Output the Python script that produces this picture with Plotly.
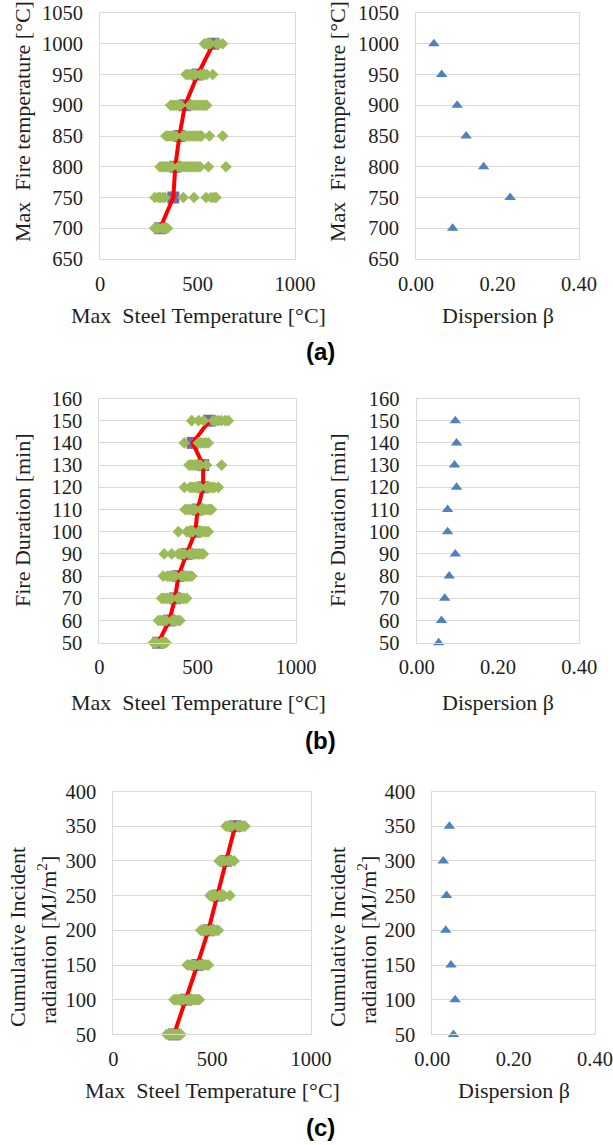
import plotly.graph_objects as go

W, H = 613, 1145

# ---------------- data ----------------
a_levels = [700, 750, 800, 850, 900, 950, 1000]
a_mean = [308, 376, 386, 407, 436, 501, 581]
a_beta = [0.090, 0.231, 0.166, 0.123, 0.101, 0.063, 0.044]
a_samples = [
    [280, 290, 298, 318, 328, 338, 346],
    [282, 300, 308, 321, 333, 427, 482, 544, 570, 585, 595],
    [308, 318, 328, 338, 348, 358, 368, 402, 412, 422, 432, 442, 452, 462, 472, 482, 492, 502, 513, 556, 646],
    [338, 348, 358, 368, 378, 388, 425, 435, 445, 455, 465, 475, 485, 495, 505, 515, 521, 561, 629],
    [362, 372, 382, 392, 402, 412, 460, 470, 480, 490, 500, 510, 520, 530, 540, 547],
    [441, 450, 460, 470, 480, 490, 515, 525, 535, 547, 578],
    [535, 545, 555, 565, 598, 610, 629],
]

b_levels = [50, 60, 70, 80, 90, 100, 110, 120, 130, 140, 150]
b_mean = [300, 356, 385, 402, 444, 488, 500, 528, 528, 475, 559]
b_beta = [0.054, 0.061, 0.069, 0.080, 0.095, 0.076, 0.076, 0.098, 0.093, 0.098, 0.095]
b_samples = [
    [275, 283, 291, 315, 325, 333, 339],
    [300, 310, 320, 330, 340, 370, 378, 386, 394, 402, 410],
    [317, 327, 337, 347, 357, 367, 400, 410, 420, 430, 444],
    [325, 346, 356, 366, 376, 386, 418, 428, 438, 448, 458, 470],
    [330, 368, 402, 412, 422, 432, 460, 470, 480, 490, 500, 510, 520, 529],
    [402, 445, 455, 465, 475, 505, 515, 525, 535, 545, 554],
    [436, 446, 456, 466, 476, 486, 516, 526, 536, 546, 556, 564, 571],
    [432, 461, 471, 481, 491, 501, 511, 545, 555, 565, 575, 585, 605],
    [456, 466, 476, 486, 496, 506, 514, 545, 622],
    [432, 503, 515, 528, 541, 554],
    [470, 505, 530, 580, 592, 605, 620, 640, 656],
]

c_levels = [50, 100, 150, 200, 250, 300, 350]
c_mean = [307, 368, 425, 481, 526, 570, 616]
c_beta = [0.052, 0.056, 0.046, 0.033, 0.035, 0.027, 0.042]
c_samples = [
    [270, 280, 290, 300, 310, 320, 330, 342],
    [307, 317, 327, 337, 347, 357, 377, 387, 397, 407, 417, 427, 435],
    [374, 384, 394, 404, 414, 434, 444, 454, 464, 474, 481],
    [442, 452, 462, 472, 490, 500, 510, 520, 531],
    [489, 498, 507, 516, 536, 545, 554, 560, 590],
    [535, 544, 553, 562, 580, 589, 598, 611],
    [570, 580, 590, 600, 630, 640, 650, 660, 666],
]

steel_ticks = [0, 500, 1000]
beta_ticks = [0.0, 0.2, 0.4]

# ---------------- style ----------------
FONT = "Liberation Serif, Times New Roman, serif"
FS = 20.5
FT = 22
TXT = "#1e1e1e"
GRID = "#d9d9d9"
GREEN = "#9bbb59"
PURPLE = "#8064a2"
RED = "#ff0000"
BLUE = "#4f81bd"


def px_x(p):
    return p / W


def px_y(p):
    return 1 - p / H


panels = [
    dict(lx=(100, 295), rx=(416, 579), y=(13, 259), levels=a_levels, mean=a_mean, beta=a_beta,
         samples=a_samples, yr=[650, 1050], dy=50),
    dict(lx=(99.3, 296), rx=(416.7, 579.3), y=(398.5, 642.7), levels=b_levels, mean=b_mean, beta=b_beta,
         samples=b_samples, yr=[50, 160], dy=10),
    dict(lx=(113.3, 311), rx=(432.3, 595), y=(791.5, 1034.4), levels=c_levels, mean=c_mean, beta=c_beta,
         samples=c_samples, yr=[50, 400], dy=50),
]

fig = go.Figure()
layout = {}


def axis_common():
    return dict(showline=True, linecolor=GRID, mirror=True, linewidth=1, zeroline=False,
                automargin=False, tickcolor="rgba(0,0,0,0)", ticks="outside",
                tickfont=dict(family=FONT, size=FS, color=TXT), fixedrange=True)


k = 0
for p in panels:
    # left subplot: steel temperature
    k += 1
    xa, ya = ("x" if k == 1 else f"x{k}"), ("y" if k == 1 else f"y{k}")
    xs, ys = [], []
    for lv, smp in zip(p["levels"], p["samples"]):
        xs += smp
        ys += [lv] * len(smp)
    fig.add_trace(go.Scatter(x=p["mean"], y=p["levels"], mode="markers", xaxis=xa, yaxis=ya,
                             cliponaxis=False,
                             marker=dict(symbol="square", size=12, color=PURPLE), showlegend=False))
    fig.add_trace(go.Scatter(x=p["mean"], y=p["levels"], mode="lines", xaxis=xa, yaxis=ya,
                             line=dict(color=RED, width=4), showlegend=False))
    fig.add_trace(go.Scatter(x=xs, y=ys, mode="markers", xaxis=xa, yaxis=ya, cliponaxis=False,
                             marker=dict(symbol="diamond", size=9, color=GREEN), showlegend=False))
    layout["xaxis" if k == 1 else f"xaxis{k}"] = dict(
        domain=[px_x(p["lx"][0]), px_x(p["lx"][1])], anchor=ya, range=[0, 1000],
        tickvals=steel_ticks, showgrid=False, ticklen=6, **axis_common())
    layout["yaxis" if k == 1 else f"yaxis{k}"] = dict(
        domain=[px_y(p["y"][1]), px_y(p["y"][0])], anchor=xa, range=p["yr"], dtick=p["dy"],
        tick0=p["yr"][0], showgrid=True, gridcolor=GRID, gridwidth=1, ticklen=12, **axis_common())
    # right subplot: dispersion
    k += 1
    xa, ya = f"x{k}", f"y{k}"
    fig.add_trace(go.Scatter(x=p["beta"], y=p["levels"], mode="markers", xaxis=xa, yaxis=ya,
                             cliponaxis=False,
                             marker=dict(symbol="triangle-up", size=10, color=BLUE), showlegend=False))
    layout[f"xaxis{k}"] = dict(
        domain=[px_x(p["rx"][0]), px_x(p["rx"][1])], anchor=ya, range=[0, 0.4],
        tickvals=beta_ticks, tickformat=".2f", showgrid=False, ticklen=6, **axis_common())
    layout[f"yaxis{k}"] = dict(
        domain=[px_y(p["y"][1]), px_y(p["y"][0])], anchor=xa, range=p["yr"], dtick=p["dy"],
        tick0=p["yr"][0], showgrid=True, gridcolor=GRID, gridwidth=1, ticklen=12, **axis_common())

ann = []


def text(x, y, s, angle=0, size=FT, family=FONT, bold=False):
    ann.append(dict(x=px_x(x), y=px_y(y), xref="paper", yref="paper", text=(f"<b>{s}</b>" if bold else s),
                    showarrow=False, textangle=angle, xanchor="center", yanchor="middle",
                    font=dict(family=family, size=size, color=TXT if not bold else "#000")))


# y-axis titles
text(23, 122, "Max  Fire temperature [°C]", angle=-90)
text(338, 122, "Max  Fire temperature [°C]", angle=-90)
text(23, 520, "Fire Duration [min]", angle=-90)
text(338, 520, "Fire Duration [min]", angle=-90)
text(17, 937, "Cumulative Incident", angle=-90)
text(47, 940, "radiantion [MJ/m<sup>2</sup>]", angle=-90)
text(337, 937, "Cumulative Incident", angle=-90)
text(367, 940, "radiantion [MJ/m<sup>2</sup>]", angle=-90)

# x-axis titles
text(198, 316, "Max  Steel Temperature [°C]")
text(498, 316, "Dispersion β")
text(198, 702, "Max  Steel Temperature [°C]")
text(498, 702, "Dispersion β")
text(212, 1090, "Max  Steel Temperature [°C]")
text(514, 1090, "Dispersion β")

# panel labels
text(320, 352, "(a)", size=24, family="Liberation Sans, Arial, sans-serif", bold=True)
text(320, 740, "(b)", size=24, family="Liberation Sans, Arial, sans-serif", bold=True)
text(320, 1127, "(c)", size=24, family="Liberation Sans, Arial, sans-serif", bold=True)

fig.update_layout(
    template="none",
    width=W, height=H, margin=dict(l=0, r=0, t=0, b=0, pad=0),
    paper_bgcolor="white", plot_bgcolor="white",
    annotations=ann, showlegend=False, **layout)

fig.write_html("out.html")
